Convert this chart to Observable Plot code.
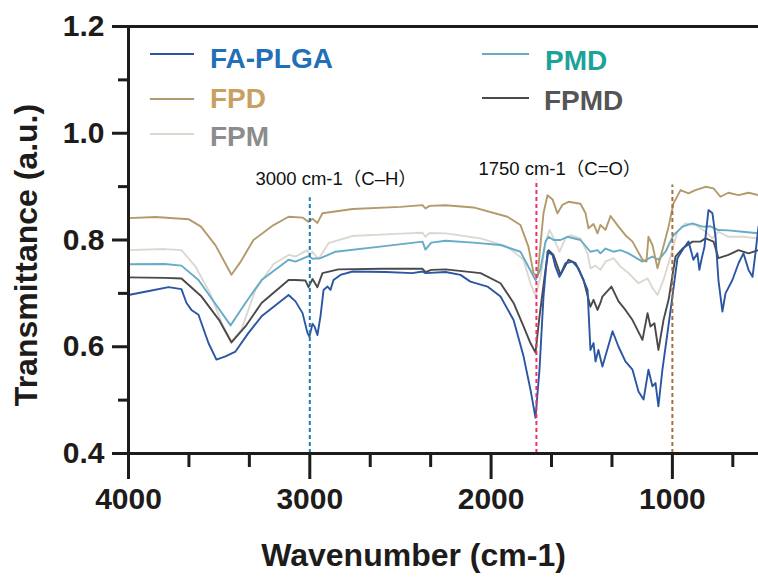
<!DOCTYPE html>
<html><head><meta charset="utf-8">
<script src="https://cdn.jsdelivr.net/npm/d3@7"></script>
<script src="https://cdn.jsdelivr.net/npm/@observablehq/plot@0.6"></script>
<style>
body{margin:0;background:#fff;}
#wrap{position:relative;width:758px;height:578px;overflow:hidden;}
#wrap svg{display:block;}
</style></head><body><div id="wrap"></div>
<script>
// ---- data ----
const seriesNames = ["FA-PLGA", "FPD", "FPM", "PMD", "FPMD"];
const lineColors  = ["#2b56a3", "#b39a6b", "#dcd8cf", "#66abc9", "#4a4a4a"];
const labelColors = ["#1f70b6", "#c9a062", "#8c8c8c", "#1ba39a", "#555555"];

const FA_PLGA = [[4000,0.697],[3880,0.705],[3779,0.7116],[3708,0.708],[3680,0.682],[3653,0.669],[3614,0.660],[3559,0.607],[3515,0.576],[3465,0.582],[3410,0.591],[3338,0.626],[3266,0.657],[3117,0.697],[3079,0.685],[3040,0.663],[3013,0.626],[3002,0.619],[2985,0.643],[2974,0.638],[2958,0.622],[2941,0.657],[2924,0.7065],[2902,0.7127],[2886,0.7065],[2869,0.725],[2831,0.7346],[2764,0.741],[2582,0.740],[2434,0.738],[2378,0.741],[2362,0.738],[2251,0.740],[2169,0.7346],[2114,0.722],[2020,0.7127],[1948,0.694],[1876,0.650],[1821,0.582],[1783,0.520],[1755,0.467],[1733,0.557],[1711,0.694],[1689,0.778],[1661,0.772],[1645,0.750],[1623,0.731],[1590,0.7565],[1551,0.7595],[1518,0.747],[1468,0.7065],[1452,0.594],[1435,0.607],[1424,0.5725],[1408,0.594],[1386,0.563],[1330,0.629],[1297,0.600],[1259,0.5725],[1220,0.557],[1187,0.516],[1159,0.501],[1132,0.557],[1110,0.526],[1093,0.532],[1077,0.4885],[1055,0.557],[1027,0.626],[1000,0.694],[972,0.766],[939,0.784],[911,0.797],[884,0.763],[862,0.775],[851,0.744],[840,0.763],[823,0.7875],[801,0.856],[779,0.850],[762,0.806],[746,0.725],[724,0.666],[707,0.700],[669,0.725],[635,0.7565],[608,0.775],[580,0.744],[558,0.731],[542,0.775],[525,0.825]];

const FPD = [[4000,0.841],[3850,0.843],[3669,0.839],[3600,0.825],[3520,0.790],[3432,0.735],[3380,0.760],[3311,0.800],[3200,0.828],[3117,0.8435],[3040,0.842],[3007,0.834],[2985,0.840],[2958,0.832],[2930,0.850],[2764,0.858],[2500,0.862],[2378,0.8654],[2362,0.859],[2340,0.864],[2251,0.865],[2097,0.861],[1910,0.8435],[1838,0.828],[1794,0.7875],[1766,0.738],[1744,0.731],[1728,0.790],[1711,0.850],[1689,0.884],[1661,0.876],[1634,0.850],[1606,0.866],[1573,0.8716],[1507,0.868],[1479,0.850],[1463,0.822],[1435,0.830],[1413,0.8125],[1397,0.828],[1369,0.819],[1341,0.845],[1297,0.825],[1259,0.809],[1220,0.797],[1165,0.763],[1143,0.7595],[1132,0.806],[1110,0.7906],[1082,0.747],[1055,0.781],[1021,0.825],[994,0.8686],[955,0.8935],[911,0.8873],[873,0.8935],[817,0.8997],[773,0.8966],[735,0.881],[691,0.8885],[635,0.884],[580,0.8885],[525,0.884]];

const FPM = [[4000,0.781],[3800,0.783],[3708,0.781],[3630,0.750],[3550,0.700],[3480,0.640],[3432,0.610],[3377,0.632],[3300,0.7065],[3200,0.755],[3117,0.772],[3079,0.769],[3013,0.781],[3002,0.772],[2985,0.778],[2952,0.764],[2897,0.794],[2764,0.8075],[2500,0.812],[2378,0.8137],[2362,0.806],[2340,0.813],[2251,0.8125],[2058,0.803],[1910,0.7875],[1821,0.763],[1783,0.719],[1755,0.695],[1728,0.730],[1700,0.794],[1678,0.819],[1650,0.800],[1623,0.778],[1590,0.803],[1562,0.809],[1507,0.803],[1468,0.775],[1452,0.747],[1424,0.752],[1397,0.744],[1369,0.7595],[1325,0.766],[1286,0.750],[1242,0.738],[1187,0.719],[1137,0.728],[1110,0.710],[1082,0.697],[1049,0.725],[1021,0.7565],[972,0.8155],[928,0.831],[873,0.828],[817,0.8155],[779,0.803],[746,0.8155],[691,0.806],[613,0.806],[525,0.803]];

const PMD = [[4000,0.7545],[3800,0.755],[3708,0.752],[3614,0.725],[3520,0.680],[3437,0.640],[3355,0.682],[3266,0.725],[3117,0.763],[3079,0.7595],[3007,0.770],[2985,0.765],[2941,0.766],[2858,0.778],[2600,0.788],[2378,0.797],[2362,0.782],[2330,0.795],[2251,0.7987],[2100,0.795],[1948,0.7906],[1838,0.778],[1794,0.750],[1755,0.725],[1728,0.745],[1700,0.797],[1683,0.806],[1656,0.800],[1617,0.800],[1579,0.806],[1507,0.800],[1452,0.778],[1413,0.781],[1397,0.775],[1369,0.784],[1325,0.778],[1286,0.781],[1242,0.775],[1165,0.7595],[1110,0.769],[1077,0.763],[1038,0.778],[994,0.809],[944,0.825],[889,0.831],[834,0.825],[790,0.8257],[746,0.8187],[691,0.818],[613,0.8155],[525,0.8125]];

const FPMD = [[4000,0.730],[3800,0.729],[3708,0.728],[3597,0.694],[3500,0.650],[3432,0.608],[3355,0.638],[3266,0.682],[3117,0.725],[3079,0.725],[3024,0.724],[3007,0.7116],[2985,0.727],[2958,0.7116],[2930,0.738],[2842,0.745],[2600,0.746],[2378,0.746],[2362,0.740],[2330,0.744],[2251,0.745],[2058,0.738],[1948,0.719],[1876,0.682],[1821,0.638],[1783,0.607],[1755,0.589],[1733,0.657],[1700,0.744],[1683,0.781],[1656,0.772],[1617,0.7346],[1573,0.763],[1534,0.7565],[1490,0.725],[1452,0.675],[1435,0.688],[1413,0.669],[1397,0.682],[1386,0.694],[1336,0.7127],[1297,0.685],[1259,0.669],[1220,0.650],[1165,0.613],[1137,0.663],[1121,0.638],[1099,0.644],[1077,0.594],[1049,0.650],[1021,0.688],[983,0.769],[944,0.784],[889,0.797],[845,0.797],[817,0.803],[773,0.797],[746,0.766],[691,0.772],[635,0.781],[580,0.775],[525,0.781]];

const seriesData = [FA_PLGA, FPD, FPM, PMD, FPMD];
const drawOrder = [2, 3, 1, 4, 0];

const xDomain = [4000, 525];
const yDomain = [0.4, 1.2];
const xMajorTicks = [4000, 3000, 2000, 1000];
const xMinorTicks = [3666.67, 3333.33, 2666.67, 2333.33, 1666.67, 1333.33, 666.67];
const yMajorTicks = [0.4, 0.6, 0.8, 1.0, 1.2];
const yMinorTicks = [0.5, 0.7, 0.9, 1.1];

const markerWn = [3000, 1750, 1000];
const markerTop = [0.879, 0.912, 0.903];
const markerColors = ["#1b7db3", "#e8336d", "#a5703f"];

const annotText = ["3000 cm-1（C–H）", "1750 cm-1（C=O）"];
const annotWn = [3300, 2070];
const annotY = [0.903, 0.9215];

const xLabel = "Wavenumber (cm-1)";
const yLabel = "Transmittance (a.u.)";

// ---- chart ----
const FONT = "'Liberation Sans', Arial, Helvetica, sans-serif";
const INK = "#1e1b1b";

const marks = [];
for (const i of drawOrder) {
  marks.push(Plot.line(seriesData[i], {x: d => d[0], y: d => d[1], stroke: lineColors[i], strokeWidth: 1.9, curve: "linear"}));
}
markerWn.forEach((w, i) => {
  marks.push(Plot.ruleX([w], {y1: yDomain[0], y2: markerTop[i], stroke: markerColors[i], strokeWidth: 2, strokeDasharray: "4,3"}));
});
marks.push(Plot.text(annotText.map((t, i) => ({t, x: annotWn[i], y: annotY[i]})), {
  x: "x", y: "y", text: "t", textAnchor: "start", lineAnchor: "bottom", fontSize: 18.5, fill: "#111",
  fontFamily: "'Liberation Sans', Arial, 'Noto Sans CJK SC', sans-serif"
}));
// frame lines
marks.push(Plot.ruleY([yDomain[1]], {stroke: INK, strokeWidth: 3}));
marks.push(Plot.ruleY([yDomain[0]], {stroke: INK, strokeWidth: 3}));
marks.push(Plot.ruleX([xDomain[0]], {stroke: INK, strokeWidth: 3}));
// axes
marks.push(Plot.axisY({ticks: yMajorTicks, tickSize: 16, tickPadding: 8, tickFormat: d3.format(".1f"), fontSize: 30, fontWeight: "bold", strokeWidth: 3, stroke: INK, fill: INK, label: null}));
marks.push(Plot.axisY({ticks: yMinorTicks, tickSize: 10, tickFormat: () => "", strokeWidth: 3, stroke: INK, label: null}));
marks.push(Plot.axisX({ticks: xMajorTicks, tickSize: 26, tickPadding: 8, tickFormat: d3.format("d"), fontSize: 30, fontWeight: "bold", strokeWidth: 3, stroke: INK, fill: INK, label: null}));
marks.push(Plot.axisX({ticks: xMinorTicks, tickSize: 14, tickFormat: () => "", strokeWidth: 3, stroke: INK, label: null}));
// titles
marks.push(Plot.text([xLabel], {frameAnchor: "bottom", textAnchor: "middle", dx: -30, dy: 112, fontSize: 32, fontWeight: "bold", fill: INK, fontFamily: FONT}));
marks.push(Plot.text([yLabel], {frameAnchor: "left", textAnchor: "middle", lineAnchor: "middle", dx: -102, dy: 15, rotate: -90, fontSize: 32, fontWeight: "bold", fill: INK, fontFamily: FONT}));

const chart = Plot.plot({
  width: 758, height: 578,
  marginLeft: 128, marginRight: 0, marginTop: 26, marginBottom: 125,
  x: {domain: xDomain, axis: null},
  y: {domain: yDomain, axis: null},
  style: {fontFamily: FONT, background: "#fff", color: INK, overflow: "visible"},
  marks
});
const wrap = document.getElementById("wrap");
wrap.appendChild(chart);

// ---- legend overlay ----
const legendPos = [
  {lx1: 150, lx2: 194, ly: 54, tx: 210, ty: 68},
  {lx1: 150, lx2: 194, ly: 99, tx: 210, ty: 108},
  {lx1: 150, lx2: 194, ly: 134, tx: 210, ty: 146},
  {lx1: 482, lx2: 529, ly: 54, tx: 545, ty: 70},
  {lx1: 482, lx2: 529, ly: 98, tx: 544, ty: 110}
];
const leg = d3.select(wrap).append("svg")
  .attr("width", 758).attr("height", 578)
  .style("position", "absolute").style("left", "0px").style("top", "0px")
  .style("pointer-events", "none");
seriesNames.forEach((name, i) => {
  const p = legendPos[i];
  leg.append("line").attr("x1", p.lx1).attr("x2", p.lx2).attr("y1", p.ly).attr("y2", p.ly)
    .attr("stroke", lineColors[i]).attr("stroke-width", 2);
  leg.append("text").attr("x", p.tx).attr("y", p.ty).text(name)
    .attr("fill", labelColors[i]).attr("font-family", FONT).attr("font-weight", "bold").attr("font-size", 28);
});
</script>
</body></html>
